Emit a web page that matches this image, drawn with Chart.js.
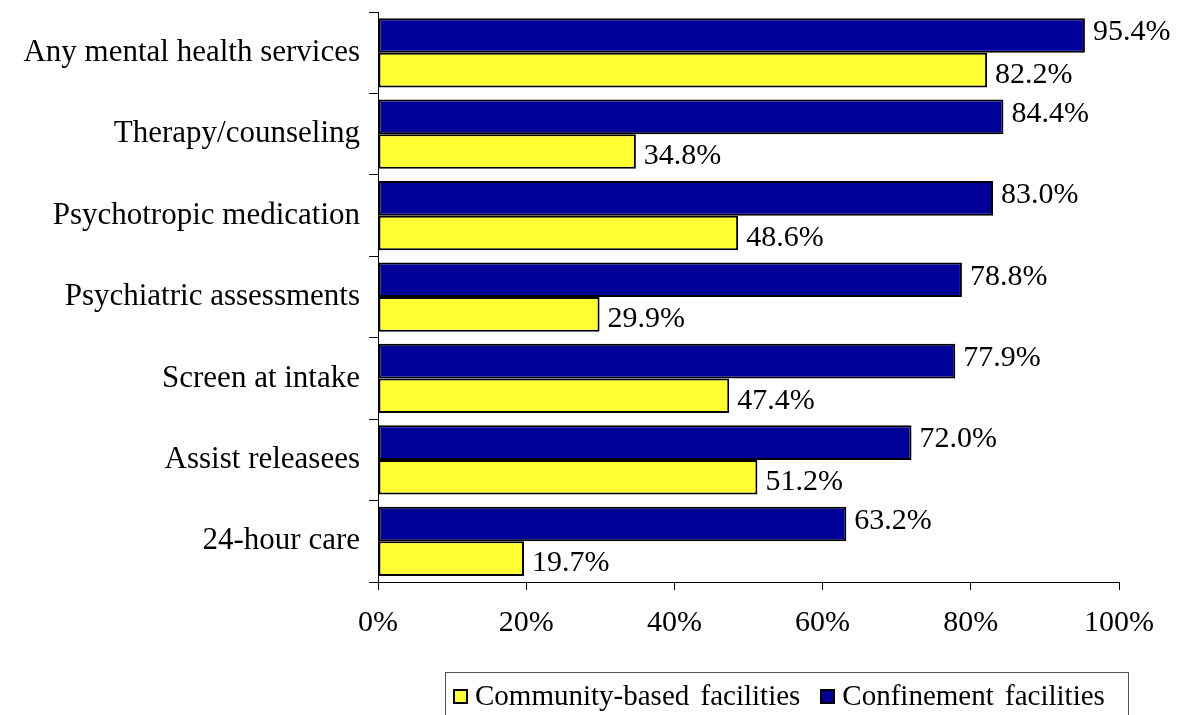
<!DOCTYPE html>
<html>
<head>
<meta charset="utf-8">
<script src="https://cdn.jsdelivr.net/npm/chart.js@4/dist/chart.umd.min.js"></script>
<style>
  html, body { margin: 0; padding: 0; background: #fff; overflow: hidden; }
  #wrap { position: relative; width: 1183px; height: 715px; }
  #legend {
    position: absolute; left: 445px; top: 672px; width: 684px; height: 60px;
    border: 1px solid #555; box-sizing: border-box;
    font-family: 'Liberation Serif', serif; font-size: 29px; color: #000;
    display: flex; align-items: flex-start; padding: 6px 0 0 7px; white-space: nowrap;
  }
  #legend .item { display: flex; align-items: center; margin-right: 20px; }
  #legend .box { width: 11px; height: 11px; border: 2px solid #000; margin-right: 7px; margin-top: 2px; }
</style>
</head>
<body>
<div id="wrap">
  <canvas id="myChart"></canvas>
  <div id="legend"></div>
</div>
<script>
  const categories = [
    'Any mental health services',
    'Therapy/counseling',
    'Psychotropic medication',
    'Psychiatric assessments',
    'Screen at intake',
    'Assist releasees',
    '24-hour care'
  ]
  const confinement = [95.4, 84.4, 83.0, 78.8, 77.9, 72.0, 63.2]
  const community = [82.2, 34.8, 48.6, 29.9, 47.4, 51.2, 19.7]
  const xTicks = [0, 20, 40, 60, 80, 100]

  const serif = 'Liberation Serif'

  // value labels just past the end of each bar
  const valueLabels = {
    id: 'valueLabels',
    afterDatasetsDraw(chart) {
      const ctx = chart.ctx
      ctx.save()
      ctx.font = '30px "' + serif + '"'
      ctx.fillStyle = '#000'
      ctx.textBaseline = 'middle'
      ctx.textAlign = 'left'
      chart.data.datasets.forEach((ds, i) => {
        const meta = chart.getDatasetMeta(i)
        const dy = i === 0 ? -3 : 5
        meta.data.forEach((bar, j) => {
          ctx.fillText(ds.data[j].toFixed(1) + '%', bar.x + 8, bar.y + dy)
        })
      })
      ctx.restore()
    }
  }

  const ctx = document.getElementById('myChart')
  const chart = new Chart(ctx, {
    type: 'bar',
    data: {
      labels: categories,
      datasets: [{
        label: 'Confinement facilities',
        data: confinement,
        backgroundColor: '#000099',
        borderColor: '#000',
        borderWidth: 2,
        borderSkipped: false,
        barPercentage: 1.0,
        categoryPercentage: 0.85
      }, {
        label: 'Community-based facilities',
        data: community,
        backgroundColor: '#ffff33',
        borderColor: '#000',
        borderWidth: 2,
        borderSkipped: false,
        barPercentage: 1.0,
        categoryPercentage: 0.85
      }]
    },
    options: {
      indexAxis: 'y',
      responsive: true,
      maintainAspectRatio: false,
      animation: false,
      layout: { padding: { top: 12, right: 64, left: 0, bottom: 0 } },
      plugins: {
        legend: { display: false },
        tooltip: { enabled: false }
      },
      scales: {
        x: {
          min: 0,
          max: 100,
          afterBuildTicks: (scale) => { scale.ticks = xTicks.map(v => ({ value: v })) },
          afterFit: (scale) => { scale.height = 133 },
          grid: { drawOnChartArea: false, drawTicks: true, tickLength: 8, color: '#000', lineWidth: 1 },
          border: { display: true, color: '#000', width: 1 },
          ticks: {
            color: '#000',
            padding: 15,
            maxRotation: 0,
            font: { family: serif, size: 30 },
            callback: (v) => v + '%'
          }
        },
        y: {
          afterFit: (scale) => { scale.width = 378 },
          grid: { drawOnChartArea: false, drawTicks: true, tickLength: 9, color: '#000', lineWidth: 1, offset: true },
          border: { display: true, color: '#000', width: 1 },
          ticks: {
            color: '#000',
            padding: 9,
            font: { family: serif, size: 31, lineHeight: 0.2 }
          }
        }
      }
    },
    plugins: [valueLabels]
  })

  // legend box, community first
  const legend = document.getElementById('legend')
  chart.data.datasets.slice().reverse().forEach((ds) => {
    const item = document.createElement('div')
    item.className = 'item'
    const box = document.createElement('span')
    box.className = 'box'
    box.style.background = ds.backgroundColor
    const txt = document.createElement('span')
    txt.textContent = ds.label
    txt.style.wordSpacing = '4px'
    item.appendChild(box)
    item.appendChild(txt)
    legend.appendChild(item)
  })
</script>
</body>
</html>
